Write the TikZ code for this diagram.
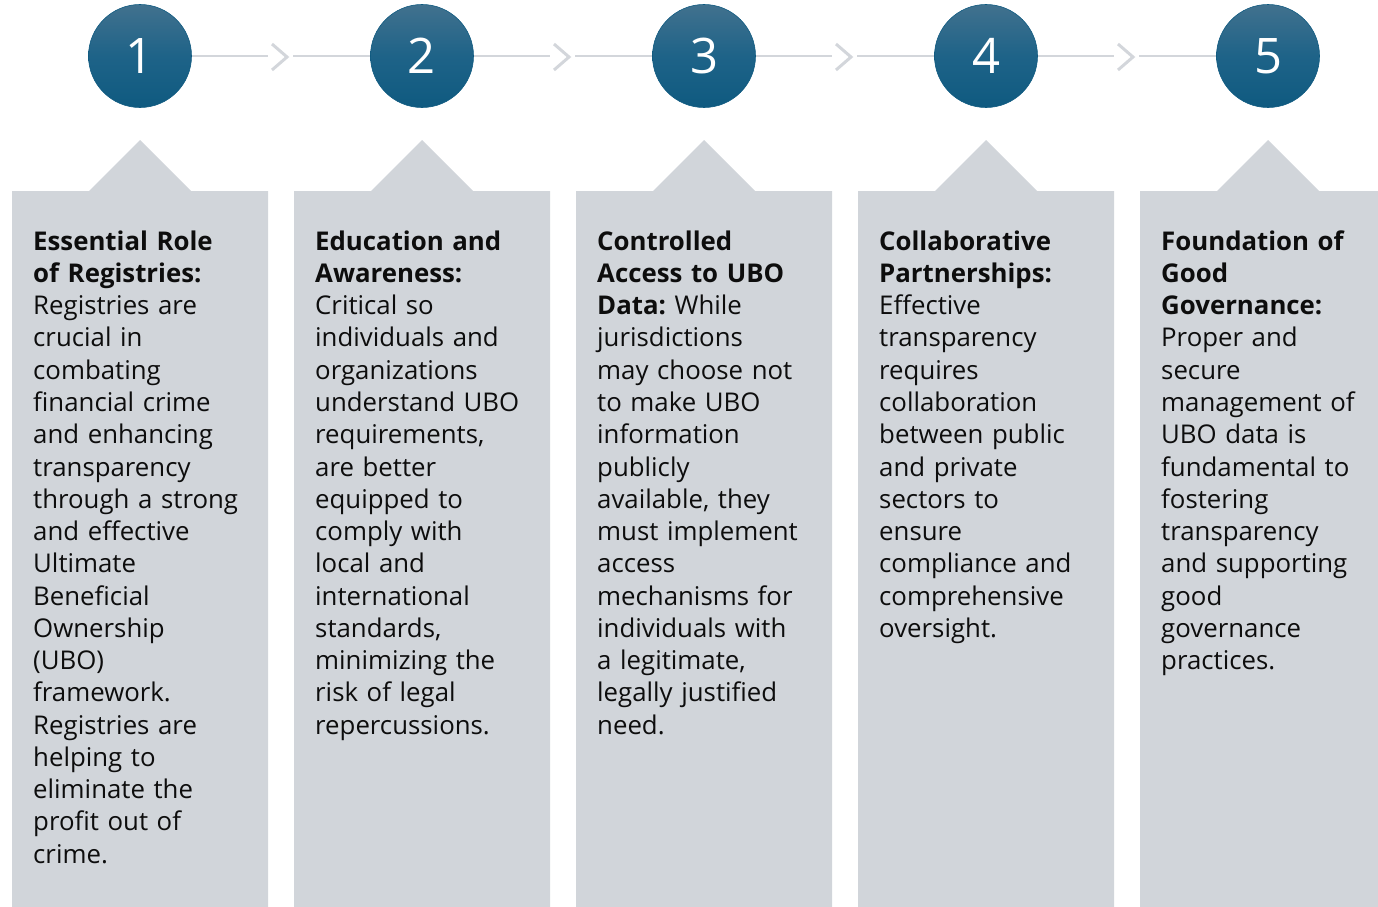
\documentclass[tikz,border=0pt]{standalone}
\usepackage{fontspec}
\setmainfont{Open Sans}
\frenchspacing
\usetikzlibrary{positioning, calc}

\definecolor{circtop}{HTML}{41718E}
\definecolor{circmid}{HTML}{1E6388}
\definecolor{circbot}{HTML}{0F5A80}
\definecolor{boxgray}{HTML}{D1D5DA}
\definecolor{linkgray}{HTML}{D3D6DB}

\tikzset{
  stepcirc/.style={circle, minimum size=103pt, inner sep=0pt,
    top color=circtop, bottom color=circbot, middle color=circmid,
    draw=circbot, line width=0.6pt, text=white,
    font=\fontsize{49}{55}\selectfont},
  link/.style={draw=linkgray, line width=2.5pt},
  chev/.style={draw=linkgray, line width=3pt, line join=miter},
  panel/.style={fill=boxgray, draw=none},
  desc/.style={anchor=north west, inner sep=0pt, text width=240pt, align=left,
    text=black!95, font=\fontsize{25.8}{32.26}\selectfont}
}

\begin{document}
\begin{tikzpicture}[x=1pt, y=-1pt]
\useasboundingbox (0,0) rectangle (1378,907);
\clip (0,0) rectangle (1378,907);

% panels
\fill[panel] (12,907) -- (12,191) -- (89,191) -- (140,140) -- (191,191) -- (268,191) -- (268,907) -- cycle;
\fill[panel] (294,907) -- (294,191) -- (371,191) -- (422,140) -- (473,191) -- (550,191) -- (550,907) -- cycle;
\fill[panel] (576,907) -- (576,191) -- (653,191) -- (704,140) -- (755,191) -- (832,191) -- (832,907) -- cycle;
\fill[panel] (858,907) -- (858,191) -- (935,191) -- (986,140) -- (1037,191) -- (1114,191) -- (1114,907) -- cycle;
\fill[panel] (1140,907) -- (1140,191) -- (1217,191) -- (1268,140) -- (1319,191) -- (1396,191) -- (1396,907) -- cycle;

% step circles
\node[stepcirc] (n1) at (140,56) {1};
\node[stepcirc] (n2) at (422,56) {2};
\node[stepcirc] (n3) at (704,56) {3};
\node[stepcirc] (n4) at (986,56) {4};
\node[stepcirc] (n5) at (1268,56) {5};

% connectors with chevrons
\coordinate (m12) at ($(n1)!0.5!(n2)$);
\coordinate (m23) at ($(n2)!0.5!(n3)$);
\coordinate (m34) at ($(n3)!0.5!(n4)$);
\coordinate (m45) at ($(n4)!0.5!(n5)$);

\draw[link] (n1.east) -- ([xshift=-13pt]m12);
\draw[link] ([xshift=12pt]m12) -- (n2.west);
\draw[chev] ([xshift=-9pt,yshift=12pt]m12) -- ([xshift=6pt,yshift=-1pt]m12) -- ([xshift=-9pt,yshift=-14pt]m12);

\draw[link] (n2.east) -- ([xshift=-13pt]m23);
\draw[link] ([xshift=12pt]m23) -- (n3.west);
\draw[chev] ([xshift=-9pt,yshift=12pt]m23) -- ([xshift=6pt,yshift=-1pt]m23) -- ([xshift=-9pt,yshift=-14pt]m23);

\draw[link] (n3.east) -- ([xshift=-13pt]m34);
\draw[link] ([xshift=12pt]m34) -- (n4.west);
\draw[chev] ([xshift=-9pt,yshift=12pt]m34) -- ([xshift=6pt,yshift=-1pt]m34) -- ([xshift=-9pt,yshift=-14pt]m34);

\draw[link] (n4.east) -- ([xshift=-13pt]m45);
\draw[link] ([xshift=12pt]m45) -- (n5.west);
\draw[chev] ([xshift=-9pt,yshift=12pt]m45) -- ([xshift=6pt,yshift=-1pt]m45) -- ([xshift=-9pt,yshift=-14pt]m45);

% texts
\node[desc] (t1) at (33,227.4) {\strut\textbf{Essential Role}\\
\textbf{of Registries:}\\
Registries are\\
crucial in\\
combating\\
financial crime\\
and enhancing\\
transparency\\
through a strong\\
and effective\\
Ultimate\\
Beneficial\\
Ownership\\
(UBO)\\
framework.\\
Registries are\\
helping to\\
eliminate the\\
profit out of\\
crime.};

\node[desc] (t2) at (315,227.4) {\strut\textbf{Education and}\\
\textbf{Awareness:}\\
Critical so\\
individuals and\\
organizations\\
understand UBO\\
requirements,\\
are better\\
equipped to\\
comply with\\
local and\\
international\\
standards,\\
minimizing the\\
risk of legal\\
repercussions.};

\node[desc] (t3) at (597,227.4) {\strut\textbf{Controlled}\\
\textbf{Access to UBO}\\
\textbf{Data:} While\\
jurisdictions\\
may choose not\\
to make UBO\\
information\\
publicly\\
available, they\\
must implement\\
access\\
mechanisms for\\
individuals with\\
a legitimate,\\
legally justified\\
need.};

\node[desc] (t4) at (879,227.4) {\strut\textbf{Collaborative}\\
\textbf{Partnerships:}\\
Effective\\
transparency\\
requires\\
collaboration\\
between public\\
and private\\
sectors to\\
ensure\\
compliance and\\
comprehensive\\
oversight.};

\node[desc] (t5) at (1161,227.4) {\strut\textbf{Foundation of}\\
\textbf{Good}\\
\textbf{Governance:}\\
Proper and\\
secure\\
management of\\
UBO data is\\
fundamental to\\
fostering\\
transparency\\
and supporting\\
good\\
governance\\
practices.};
\end{tikzpicture}
\end{document}
